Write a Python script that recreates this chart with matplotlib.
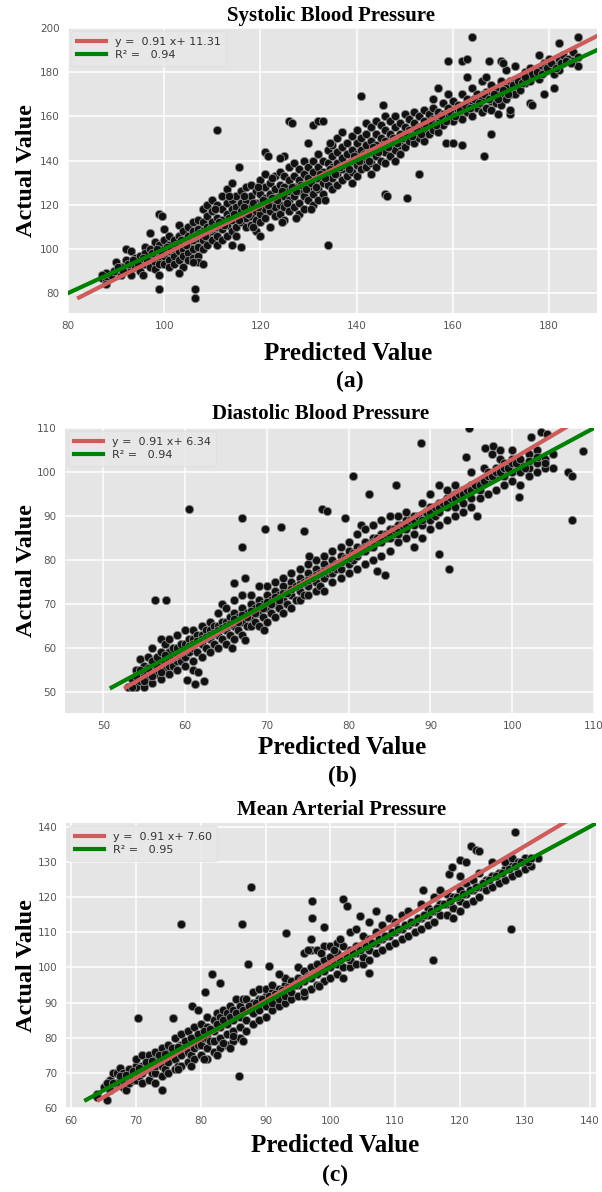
import numpy as np
import matplotlib.pyplot as plt

# (predicted, actual) pairs for each blood pressure target
sbp_points = [
    (87, 87), (88, 86), (89, 88), (90, 90), (90, 94), (91, 92), (91, 88), (92, 95), (92, 100), (93, 99), (93, 91),
    (93, 88), (94, 96), (94, 92), (95, 94), (95, 97), (95, 90), (96, 101), (96, 98), (96, 93), (97, 100), (97, 96),
    (97, 92), (97, 107), (98, 103), (98, 98), (98, 94), (98, 91),
    (99, 102), (99, 99), (99, 96), (99, 93), (100, 104), (100, 100), (100, 97), (100, 93), (100, 109), (101, 106),
    (101, 102), (101, 99), (101, 95), (101, 92), (102, 104), (102, 100), (102, 97), (102, 93), (103, 106), (103, 102),
    (103, 99), (103, 95), (103, 111), (104, 108), (104, 104), (104, 100), (104, 97), (104, 92), (105, 110), (105, 106),
    (105, 102), (105, 98), (105, 95),
    (106, 112), (106, 108), (106, 104), (106, 100), (106, 96), (107, 113), (107, 109), (107, 105), (107, 101),
    (107, 97), (107, 94), (108, 118), (108, 112), (108, 108), (108, 104), (108, 100), (109, 120), (109, 115),
    (109, 110), (109, 106), (109, 102), (110, 122), (110, 117), (110, 112), (110, 108), (110, 104), (111, 120),
    (111, 114), (111, 110), (111, 106), (111, 102), (112, 124), (112, 118), (112, 113), (112, 109), (112, 104),
    (113, 127), (113, 121), (113, 116), (113, 111), (113, 106), (114, 130), (114, 122), (114, 118), (114, 113),
    (114, 108), (114, 102), (115, 124), (115, 119), (115, 115), (115, 110), (115, 106), (116, 126), (116, 121),
    (116, 117), (116, 112), (116, 101), (117, 128), (117, 122), (117, 118), (117, 114), (117, 110), (118, 129),
    (118, 124), (118, 119), (118, 115), (118, 111), (119, 126), (119, 121), (119, 117), (119, 113), (119, 108),
    (120, 131), (120, 125), (120, 120), (120, 116), (120, 112), (120, 106),
    (121, 134), (121, 128), (121, 123), (121, 118), (121, 114), (122, 130), (122, 125), (122, 121), (122, 117),
    (122, 110), (123, 133), (123, 127), (123, 123), (123, 119), (123, 115), (124, 135), (124, 129), (124, 124),
    (124, 120), (124, 116), (125, 133), (125, 128), (125, 124), (125, 119), (125, 113), (126, 137), (126, 131),
    (126, 126), (126, 122), (126, 117), (127, 139), (127, 133), (127, 128), (127, 124), (127, 119), (128, 136),
    (128, 131), (128, 126), (128, 121), (128, 116),
    (129, 140), (129, 134), (129, 129), (129, 124), (129, 118), (130, 137), (130, 132), (130, 127), (130, 122),
    (131, 140), (131, 135), (131, 130), (131, 125), (131, 120), (132, 143), (132, 137), (132, 132), (132, 127),
    (132, 122), (133, 140), (133, 135), (133, 130), (133, 125), (134, 145), (134, 139), (134, 134), (134, 129),
    (135, 147), (135, 142), (135, 137), (135, 132), (135, 127), (136, 150), (136, 144), (136, 139), (136, 134),
    (136, 129),
    (137, 153), (137, 146), (137, 141), (137, 136), (137, 131), (138, 148), (138, 143), (138, 138), (138, 133),
    (139, 151), (139, 145), (139, 140), (139, 135), (139, 130), (140, 154), (140, 148), (140, 143), (140, 138),
    (140, 133), (141, 150), (141, 145), (141, 140), (141, 136), (142, 157), (142, 152), (142, 147), (142, 142),
    (142, 137), (143, 155), (143, 149), (143, 144), (143, 139), (143, 134), (144, 158), (144, 152), (144, 147),
    (144, 142), (144, 137),
    (145, 156), (145, 150), (145, 145), (145, 140), (146, 160), (146, 154), (146, 149), (146, 144), (146, 139),
    (147, 158), (147, 152), (147, 147), (147, 142), (148, 160), (148, 155), (148, 150), (148, 145), (148, 140),
    (149, 157), (149, 152), (149, 147), (149, 143), (150, 161), (150, 155), (150, 150), (150, 146), (151, 159),
    (151, 154), (151, 149), (152, 162), (152, 157), (152, 152), (152, 148),
    (153, 160), (153, 155), (153, 150), (154, 163), (154, 158), (154, 153), (154, 149), (155, 161), (155, 156),
    (155, 152), (156, 168), (156, 164), (156, 159), (156, 154), (157, 162), (157, 157), (157, 153), (158, 166),
    (158, 161), (158, 156), (159, 170), (159, 164), (159, 160), (160, 167), (160, 162), (160, 158), (161, 165),
    (161, 160), (162, 170), (162, 163), (162, 159), (163, 178), (163, 168), (163, 162),
    (164, 173), (164, 166), (164, 160), (165, 170), (165, 164), (166, 176), (166, 168), (166, 162), (167, 178),
    (167, 171), (167, 164), (168, 174), (168, 167), (168, 163), (169, 172), (169, 166), (170, 176), (170, 170),
    (170, 165), (171, 181), (171, 173), (171, 168), (172, 176), (172, 170),
    (173, 183), (173, 174), (173, 170), (174, 178), (174, 172), (175, 180), (175, 175), (176, 182), (176, 176),
    (177, 179), (178, 182), (178, 177), (179, 184), (179, 180), (180, 186), (180, 181), (181, 183), (181, 179),
    (182, 186), (182, 181), (183, 188), (183, 184), (184, 186), (185, 189), (185, 185), (186, 187), (186, 183),
    # in-between points filling the core of the band
    (89.5, 90), (90.5, 92), (91.5, 90), (92.5, 93), (93.5, 95), (94.5, 93), (95.5, 96), (96.5, 95), (97.5, 98),
    (98.5, 100), (99.5, 98), (100.5, 101), (101.5, 100), (102.5, 102), (103.5, 104), (104.5, 102), (105.5, 105),
    (106.5, 106), (107.5, 107), (108.5, 106), (109.5, 109), (110.5, 110), (111.5, 112), (112.5, 111),
    (113.5, 114), (114.5, 116), (115.5, 113), (116.5, 119), (117.5, 116), (118.5, 121), (119.5, 119),
    (120.5, 122), (121.5, 120), (122.5, 123), (123.5, 122), (124.5, 126), (125.5, 121), (126.5, 128),
    (127.5, 126), (128.5, 129), (129.5, 127), (130.5, 130), (131.5, 128), (132.5, 134), (133.5, 132),
    (134.5, 136), (135.5, 134), (136.5, 137), (137.5, 138), (138.5, 136), (139.5, 142), (140.5, 140),
    (141.5, 143), (142.5, 140), (143.5, 146), (144.5, 144), (145.5, 147), (146.5, 146), (147.5, 150),
    (148.5, 148), (149.5, 150), (150.5, 152), (151.5, 151), (152.5, 154), (153.5, 152), (154.5, 156),
    (155.5, 158), (156.5, 156), (157.5, 160), (158.5, 158), (159.5, 162), (160.5, 160), (161.5, 163),
    (162.5, 165), (163.5, 164), (164.5, 168), (165.5, 166), (166.5, 170), (167.5, 168), (168.5, 170),
    (169.5, 168), (170.5, 172), (171.5, 170), (172.5, 174), (173.5, 176), (174.5, 175), (175.5, 177),
    (176.5, 179), (177.5, 180), (178.5, 179), (179.5, 182), (180.5, 184), (181.5, 182), (182.5, 184),
    (183.5, 185), (184.5, 184), (110.5, 118), (113.5, 124), (116.5, 124), (119.5, 128), (122.5, 132),
    (118.5, 110), (124.5, 112), (127.5, 114), (130.5, 118), (133.5, 122),
    # scattered points away from the band
    (111, 154), (106.5, 78), (106.5, 82), (99, 82), (134, 102), (150.5, 123), (146, 125), (146.3, 124),
    (153, 134), (164, 196), (159, 185), (162, 185), (163, 186), (141, 169), (166.5, 142), (168, 152),
    (158.5, 148), (160, 148), (162, 147), (181, 173), (186, 196), (182, 193), (178, 188), (126, 158),
    (126.5, 157), (131, 156), (132, 158), (133, 158), (121, 144), (121.5, 142), (125, 142), (124, 141),
    (115.5, 137), (99, 116), (99.5, 115), (103, 89), (99, 88), (95.5, 88), (88, 89), (87, 88), (88, 84),
    (108, 93), (106, 94), (145.5, 165), (157, 173), (170, 185), (170.5, 184), (167.5, 185), (175, 178),
    (176, 166), (176.5, 165), (172, 161), (172, 163), (169.5, 161), (179, 170), (134.5, 148), (130, 148),
]

dbp_points = [
    (53, 51), (53.5, 53), (54, 51), (54, 55), (54.5, 52.5), (54.5, 57.5), (55, 51), (55, 54), (55, 56), (55.5, 53),
    (55.5, 58), (56, 52), (56, 55), (56, 57), (56, 60), (56.5, 54), (56.5, 58), (57, 53), (57, 56), (57, 59),
    (57, 62), (57.5, 55), (57.5, 57), (57.5, 61), (58, 54), (58, 56), (58, 59), (58, 62), (58.5, 56), (58.5, 60),
    (59, 55), (59, 57), (59, 60), (59, 63), (59.5, 57), (59.5, 61), (60, 56), (60, 58), (60, 61), (60, 64),
    (60.5, 59), (60.5, 62),
    (61, 57), (61, 60), (61, 62), (61, 64), (61.5, 59), (61.5, 63), (62, 58), (62, 61), (62, 63), (62, 65),
    (62.5, 60), (62.5, 64), (63, 59), (63, 62), (63, 64), (63, 66), (63.5, 61), (63.5, 65), (64, 60), (64, 63),
    (64, 65), (64, 68), (64.5, 62), (64.5, 66), (64.5, 70), (65, 61), (65, 64), (65, 66), (65, 69), (65.5, 63),
    (65.5, 67), (66, 62), (66, 65), (66, 68), (66, 71), (66.5, 64), (66.5, 67), (67, 63), (67, 66), (67, 69),
    (67, 72), (67.5, 68), (67.5, 65),
    (68, 65), (68, 67), (68, 70), (68, 72), (68.5, 66), (68.5, 69), (69, 65), (69, 68), (69, 71), (69, 74),
    (69.5, 67), (69.5, 70), (70, 66), (70, 69), (70, 72), (70, 74), (70.5, 68), (70.5, 71), (71, 67), (71, 70),
    (71, 73), (71, 75), (71.5, 69), (71.5, 72), (72, 68), (72, 71), (72, 74), (72, 76), (72.5, 70), (73, 69),
    (73, 72), (73, 75), (73, 77), (73.5, 71), (74, 71), (74, 73), (74, 76), (74, 78), (74.5, 72), (75, 72),
    (75, 74), (75, 77), (75, 79),
    (76, 73), (76, 75), (76, 78), (76, 80), (76.5, 74), (77, 73), (77, 76), (77, 79), (77, 81), (77.5, 77),
    (78, 75), (78, 77), (78, 80), (78, 82), (78.5, 78), (79, 76), (79, 78), (79, 81), (79, 83), (79.5, 80),
    (80, 77), (80, 79), (80, 82), (80, 84), (80.5, 80), (81, 78), (81, 81), (81, 83), (81, 86), (81.5, 82),
    (81.5, 88), (82, 79), (82, 82), (82, 84), (82, 87), (82.5, 83), (83, 80), (83, 83), (83, 85), (83, 88),
    (83.5, 84),
    (84, 81), (84, 84), (84, 86), (84, 89), (84.5, 85), (85, 82), (85, 85), (85, 87), (85, 90), (85.5, 86),
    (86, 84), (86, 86), (86, 88), (86, 90), (86.5, 87), (87, 85), (87, 87), (87, 89), (87, 91), (88, 83),
    (88, 86), (88, 88), (88, 90), (88.5, 89), (89, 85), (89, 88), (89, 90), (89, 93), (89.5, 91), (90, 87),
    (90, 89), (90, 92), (90, 95), (90.5, 90), (91, 88), (91, 91), (91, 93), (91, 97), (92, 89), (92, 92),
    (92, 94), (92, 96),
    (93, 90), (93, 92), (93, 95), (93, 97), (94, 91), (94, 93), (94, 96), (95, 92), (95, 94), (95, 97),
    (95, 100), (96, 94), (96, 96), (96, 98), (96.5, 101), (97, 95), (97, 98), (97, 100), (97.5, 104), (98, 96),
    (98, 99), (98, 101), (98.5, 103), (99, 97), (99, 99), (99, 102), (100, 98), (100, 100), (100, 103),
    (100, 105), (101, 97), (101, 100), (101, 102), (102, 99), (102, 101), (102, 104), (103, 100), (103, 102),
    (103, 105), (104, 101), (104, 103), (105, 101), (105, 104),
    # in-between points filling the core of the band
    (53.5, 51), (54, 53.5), (54.5, 55), (55, 52.5), (55.5, 55.5), (56, 53.5), (56.5, 56), (57, 54.5),
    (57.5, 58.5), (58, 57.5), (58.5, 58), (59, 58.5), (59.5, 59), (60, 59.5), (60.5, 60.5), (61, 61),
    (61.5, 61.5), (62, 62), (62.5, 62.5), (63, 63), (63.5, 63.5), (64, 64), (64.5, 64.5), (65, 65), (65.5, 65.5),
    (66, 66.5), (66.5, 66), (67, 67.5), (67.5, 67), (68, 68.5), (68.5, 68), (69, 69.5), (69.5, 69), (70, 70.5),
    (70.5, 70), (71, 71.5), (71.5, 71), (72, 72.5), (72.5, 72.5), (73, 73.5), (73.5, 74), (74, 74.5),
    (74.5, 75), (75, 75.5), (75.5, 76), (76, 76.5), (76.5, 77), (77, 77.5), (77.5, 78), (78, 78.5), (78.5, 79),
    (79, 79.5), (79.5, 80.5), (80, 80.5), (80.5, 81.5), (81, 81.5), (81.5, 82.5), (82, 83), (82.5, 83.5),
    (83, 84), (83.5, 85), (84, 85), (84.5, 86), (85, 86), (85.5, 87), (86, 87), (86.5, 88), (87, 88),
    (87.5, 89), (88, 89), (88.5, 90), (89, 89), (89.5, 91), (90, 91), (90.5, 92), (91, 92), (91.5, 93),
    (92, 93), (92.5, 94), (93, 94), (93.5, 95), (94, 95), (94.5, 96), (95, 96), (95.5, 97), (96, 97),
    (96.5, 98), (97, 99), (97.5, 99), (98, 100), (98.5, 100), (99, 101), (99.5, 101), (100, 102), (100.5, 102),
    (101, 103), (101.5, 101), (102, 102.5), (103, 103.5), (104, 102),
    # scattered points away from the band
    (60.5, 91.5), (56.3, 70.8), (57.6, 71), (67, 89.5), (67, 83), (69.8, 87), (71.7, 87.5), (74.5, 86.5),
    (67.3, 76), (66, 74.8), (76.7, 91.5), (77.3, 91.2), (75.2, 81), (79.5, 89.5), (80.5, 99), (82.5, 95),
    (85.8, 97), (88.8, 106.5), (94.7, 110), (92.3, 78), (91, 81.3), (84.4, 76.5), (83.5, 77.5), (107.3, 89),
    (108.6, 104.8), (106.8, 100), (107.3, 99.2), (94.3, 103.3), (96.7, 105.5), (97.7, 106), (98.5, 105),
    (100.8, 94.3), (95.7, 90), (60.2, 52.8), (61.2, 51.8), (62.3, 52.5), (61, 55), (61.6, 54.5), (67.3, 61.7),
    (69.7, 64), (65.7, 60), (103.5, 109), (102.3, 108), (104.3, 108.6),
]

map_points = [
    (64, 64), (65, 66), (66, 65), (66, 68), (66.5, 70), (67, 67), (67, 70), (67.5, 71.5), (68, 66), (68, 68),
    (68, 70), (68.5, 65), (69, 67), (69, 69), (69, 71), (69.5, 68), (70, 68), (70, 70), (70, 72), (70, 74),
    (70.5, 69), (71, 67), (71, 70), (71, 72), (71, 75), (71.5, 71), (72, 68), (72, 71), (72, 73), (72, 75),
    (72.5, 70),
    (73, 67), (73, 70), (73, 72), (73, 74), (73, 76), (73.5, 73), (74, 69), (74, 72), (74, 74), (74, 77),
    (74.5, 71), (75, 70), (75, 73), (75, 76), (75, 78), (75.5, 75), (76, 71), (76, 74), (76, 77), (76, 80),
    (76.5, 72), (77, 72), (77, 75), (77, 78), (77, 81), (77.5, 77), (78, 73), (78, 76), (78, 79), (78, 82),
    (78.5, 75), (79, 74), (79, 77), (79, 80), (79, 83), (79.5, 78), (80, 75), (80, 78), (80, 81), (80, 84),
    (80.5, 80),
    (81, 74), (81, 77), (81, 80), (81, 83), (81, 86), (81.5, 79), (82, 76), (82, 79), (82, 82), (82, 85),
    (82.5, 87), (83, 77), (83, 80), (83, 83), (83, 86), (83.5, 88), (84, 78), (84, 81), (84, 84), (84, 87),
    (84.5, 89), (85, 79), (85, 82), (85, 85), (85, 88), (85.5, 91), (86, 80), (86, 83), (86, 86), (86, 89),
    (86.5, 91), (87, 82), (87, 85), (87, 88), (87, 91), (88, 84), (88, 87), (88, 90), (88, 93),
    (89, 85), (89, 88), (89, 91), (89, 94), (90, 86), (90, 89), (90, 92), (90, 94), (91, 88), (91, 90),
    (91, 93), (91, 95), (92, 89), (92, 91), (92, 94), (93, 90), (93, 92), (93, 95), (93, 97), (94, 91),
    (94, 93), (94, 96), (95, 92), (95, 95), (95, 97), (95, 100), (96, 92), (96, 96), (96, 99), (96, 104),
    (97, 94), (97, 97), (97, 100), (97, 105), (97, 108),
    (98, 95), (98, 98), (98, 101), (98, 105), (99, 96), (99, 99), (99, 102), (99, 106), (100, 97), (100, 100),
    (100, 103), (100, 106), (101, 98), (101, 101), (101, 104), (101, 107), (102, 97), (102, 100), (102, 103),
    (102, 106), (103, 100), (103, 102), (103, 105), (103, 110), (104, 101), (104, 104), (104, 106), (104, 111),
    (105, 101), (105, 103), (105, 106), (105, 109), (106, 102), (106, 105), (106, 108), (106, 113),
    (107, 104), (107, 107), (107, 110), (107, 116), (108, 105), (108, 108), (108, 112), (109, 106), (109, 109),
    (109, 114), (110, 107), (110, 110), (110, 113), (111, 108), (111, 111), (111, 115), (112, 109), (112, 112),
    (112, 116), (113, 110), (113, 113), (114, 111), (114, 114), (114, 118), (115, 112), (115, 115), (115, 117),
    (116, 113), (116, 116), (116, 120),
    (117, 115), (117, 118), (117, 122), (118, 115), (118, 118), (118, 121), (119, 114), (119, 117), (119, 120),
    (120, 116), (120, 119), (120, 122), (120, 126), (121, 118), (121, 121), (121, 124), (122, 119), (122, 122),
    (122, 125), (123, 120), (123, 123), (123, 127), (124, 122), (124, 125), (125, 123), (125, 126), (125, 130),
    (126, 124), (126, 127), (127, 125), (127, 128), (127, 130), (128, 126), (128, 129), (128, 131), (129, 127),
    (129, 130), (130, 128), (130, 131), (131, 129), (132, 131),
    # in-between points filling the core of the band
    (65.5, 67), (66.5, 67), (67.5, 69), (68.5, 69.5), (69.5, 70.5), (70.5, 71.5), (71.5, 73), (72.5, 73.5),
    (73.5, 75), (74.5, 75.5), (75.5, 77), (76.5, 77.5), (77.5, 79), (78.5, 80), (79.5, 81), (80.5, 82),
    (81.5, 82.5), (82.5, 84), (83.5, 85), (84.5, 86), (85.5, 87), (86.5, 88), (87.5, 89), (88.5, 90),
    (89.5, 91), (90.5, 92), (91.5, 92.5), (92.5, 93.5), (93.5, 94.5), (94.5, 95), (95.5, 96.5), (96.5, 97.5),
    (97.5, 98.5), (98.5, 99.5), (99.5, 100.5), (100.5, 101.5), (101.5, 102), (102.5, 103), (103.5, 104),
    (104.5, 105), (105.5, 106), (106.5, 107), (107.5, 108), (108.5, 109), (109.5, 110), (110.5, 111),
    (111.5, 112), (112.5, 113), (113.5, 114), (114.5, 115), (115.5, 116), (116.5, 117), (117.5, 118),
    (118.5, 119), (119.5, 120), (120.5, 121), (121.5, 122), (122.5, 123), (123.5, 124), (124.5, 125),
    (125.5, 126), (126.5, 127), (127.5, 128), (128.5, 129), (129.5, 130), (130.5, 130), (131, 131),
    (76.5, 71), (78.5, 72), (80.5, 74), (82.5, 75), (84.5, 77), (86.5, 79), (85, 80.5), (83.5, 78.5),
    (98.5, 104), (100.5, 105), (96.5, 105), (101.5, 108),
    # scattered points away from the band
    (70.3, 85.5), (75.7, 85.5), (77, 112.3), (86.4, 112.3), (87.7, 123), (85.9, 69), (74, 65), (65.5, 62.3),
    (64, 63), (78.7, 89), (79.5, 88), (80.6, 93), (81.8, 98), (83, 95.5), (87.3, 101), (93.1, 109.8),
    (97.2, 119), (99, 111.5), (97.2, 114), (102, 119.5), (102.5, 117.5), (104.5, 114.5), (115.8, 102),
    (127.9, 110.8), (128.5, 138.5), (121.7, 134.5), (122.5, 133.5), (123, 133), (120, 130.5), (121, 130),
    (118.3, 126.5), (118.8, 128.5), (114.3, 122), (106, 98.5), (96, 93), (98.2, 94.8), (90.5, 100.5), (92, 98),
]

titles = ["Systolic Blood Pressure", "Diastolic Blood Pressure", "Mean Arterial Pressure"]
panel_tags = ["(a)", "(b)", "(c)"]
fit_slope = [0.91, 0.91, 0.91]
fit_intercept = [11.31, 6.34, 7.60]
r_squared = [0.94, 0.94, 0.95]
x_limits = [(80, 190), (45.3, 110), (59.2, 141)]
y_limits = [(71, 200), (45.2, 110), (60, 141.1)]
x_ticks = [[80, 100, 120, 140, 160, 180], [50, 60, 70, 80, 90, 100, 110], [60, 70, 80, 90, 100, 110, 120, 130, 140]]
y_ticks = [[80, 100, 120, 140, 160, 180, 200], [50, 60, 70, 80, 90, 100, 110], [60, 70, 80, 90, 100, 110, 120, 130, 140]]

W, H = 602, 1192
fig = plt.figure(figsize=(W / 100, H / 100), dpi=100)
serif = "Liberation Serif"

# pixel boxes: left, top, right, bottom
boxes = [(68, 28, 597, 313), (65, 428, 594, 713), (66, 823, 596, 1108)]
title_y = [16, 414, 810]
title_x = [331, 321, 342]
xlabel_pos = [(348, 354), (342, 747), (335, 1146)]
tag_pos = [(350, 381), (342, 776), (335, 1175)]

for i, pts in enumerate([sbp_points, dbp_points, map_points]):
    pts = np.array(pts)
    pred, actual = pts[:, 0], pts[:, 1]
    l, t, r, b = boxes[i]
    ax = fig.add_axes([l / W, 1 - b / H, (r - l) / W, (b - t) / H])
    ax.set_facecolor("#E5E5E5")
    for s in ax.spines.values():
        s.set_visible(False)
    ax.grid(True, color="white", lw=1.1)
    ax.set_axisbelow(True)

    ax.scatter(pred, actual, s=36, c="#111111", edgecolors="#8a8a8a", linewidths=0.6, zorder=2)

    # fitted line (predicted = m * actual + c) and identity line
    y_fit = np.array([actual.min(), y_limits[i][1] + 5])
    ax.plot(fit_slope[i] * y_fit + fit_intercept[i], y_fit, color="#CD5C5C", lw=3, zorder=3,
            label=f"y =  {fit_slope[i]:.2f} x+ {fit_intercept[i]:.2f}")
    y_id = np.array([actual.min(), x_limits[i][1] + 5])
    ax.plot(y_id, y_id, color="green", lw=3, zorder=3, label=f"R² =   {r_squared[i]:.2f}")

    ax.set_xlim(*x_limits[i])
    ax.set_ylim(*y_limits[i])
    ax.set_xticks(x_ticks[i])
    ax.set_yticks(y_ticks[i])
    ax.tick_params(length=0, labelsize=7.5, labelcolor="#555555", pad=6)

    leg = ax.legend(loc="upper left", fontsize=8, handlelength=2.6, frameon=True, borderaxespad=0.3,
                    labelspacing=0.3, borderpad=0.5)
    leg.get_frame().set_facecolor("#E8E8E8")
    leg.get_frame().set_edgecolor("#E0E0E0")
    leg.get_frame().set_alpha(0.85)
    for txt in leg.get_texts():
        txt.set_color("#333333")

    fig.text(title_x[i] / W, 1 - title_y[i] / H, titles[i], ha="center", va="center",
             fontsize=15, fontweight="bold", family=serif)
    fig.text(xlabel_pos[i][0] / W, 1 - xlabel_pos[i][1] / H, "Predicted Value", ha="center", va="center",
             fontsize=18, fontweight="bold", family=serif)
    fig.text(27 / W, 1 - (t + b) / 2 / H, "Actual Value", ha="center", va="center", rotation=90,
             fontsize=17.5, fontweight="bold", family=serif)
    fig.text(tag_pos[i][0] / W, 1 - tag_pos[i][1] / H, panel_tags[i], ha="center", va="center",
             fontsize=17, fontweight="bold", family=serif)

fig.savefig("out.png", dpi=100, facecolor="white")
